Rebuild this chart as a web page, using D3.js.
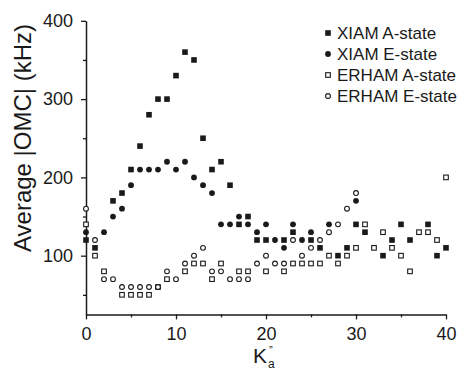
<!DOCTYPE html>
<html>
<head>
<meta charset="utf-8">
<script src="https://cdn.jsdelivr.net/npm/d3@7"></script>
<style>
  html, body { margin: 0; padding: 0; background: #fff; }
  svg { display: block; font-family: "Liberation Sans", Arial, sans-serif; }
</style>
</head>
<body>
<div id="chart"></div>
<script>
// K_a'' values (x)
const ka = [0, 1, 2, 3, 4, 5, 6, 7, 8, 9, 10, 11, 12, 13, 14, 15, 16, 17, 18, 19, 20,
            21, 22, 23, 24, 25, 26, 27, 28, 29, 30, 31, 32, 33, 34, 35, 36, 37, 38, 39, 40];

// average |OMC| in kHz, null = no point
const xiamA = [120, 110, null, 170, 180, 210, 240, 280, 300, 300, 330, 360, 350, 250, 210, 220, 190, 140, 150, 120, 120,
               null, 120, 130, null, 120, 110, null, 100, 110, 140, 130, null, 100, 120, 140, 120, null, 140, 100, 110];
const xiamE = [130, null, 130, 150, 160, 190, 210, 210, 210, 220, 210, 220, 200, 190, 180, 140, 140, 150, 140, 130, 140,
               120, 110, 140, 120, 130, null, 140, null, null, 170];
const erhamA = [140, 100, 80, null, 50, 50, 50, 50, 60, 70, null, 80, 90, 90, 70, 90, null, 80, 80, null, 80,
                null, 80, 90, 90, 90, 90, 100, 90, 100, 110, 140, 110, 130, 110, 100, 80, 130, 130, 120, 200];
const erhamE = [160, 120, 70, 70, 60, 60, 60, 60, 60, 80, 70, 90, 100, 110, 80, 80, 70, 70, 70, 90, 100,
                90, 90, 120, 100, 110, 120, 130, 140, 160, 180];

const seriesNames = ["XIAM A-state", "XIAM E-state", "ERHAM A-state", "ERHAM E-state"];
const seriesValues = [xiamA, xiamE, erhamA, erhamE];
const markerTypes = ["filledSquare", "filledCircle", "openSquare", "openCircle"];

const yMajor = [100, 200, 300, 400];
const yMinor = [50, 150, 250, 350];
const xMajor = [0, 10, 20, 30, 40];
const xMinor = [5, 15, 25, 35];

const width = 461, height = 371;
const ink = "#1a1a1a";

const svg = d3.select("#chart").append("svg")
  .attr("width", width)
  .attr("height", height);

const x = d3.scaleLinear().domain([0, 40]).range([86, 446]);
const y = d3.scaleLinear().domain([25, 400]).range([314.4, 20.8]);

// minor ticks first
svg.append("g")
  .attr("transform", `translate(0,${y(25)})`)
  .call(d3.axisBottom(x).tickValues(xMinor).tickSize(3).tickFormat("").tickSizeOuter(0))
  .call(g => g.select(".domain").remove());
svg.append("g")
  .attr("transform", `translate(${x(0)},0)`)
  .call(d3.axisLeft(y).tickValues(yMinor).tickSize(3).tickFormat("").tickSizeOuter(0))
  .call(g => g.select(".domain").remove());

const xAxis = svg.append("g")
  .attr("transform", `translate(0,${y(25)})`)
  .call(d3.axisBottom(x).tickValues(xMajor).tickSize(5).tickPadding(8).tickSizeOuter(0));
const yAxis = svg.append("g")
  .attr("transform", `translate(${x(0)},0)`)
  .call(d3.axisLeft(y).tickValues(yMajor).tickSize(5).tickPadding(8).tickSizeOuter(0));

svg.selectAll(".tick line").attr("stroke", ink).attr("stroke-width", 1.3);
svg.selectAll(".domain").attr("stroke", ink).attr("stroke-width", 1.5);
xAxis.selectAll("text").attr("font-size", 18).attr("fill", ink).attr("font-family", null);
yAxis.selectAll("text").attr("font-size", 18).attr("fill", ink).attr("font-family", null);

// axis titles
svg.append("text")
  .attr("transform", `translate(31,138) rotate(-90)`)
  .attr("text-anchor", "middle")
  .attr("font-size", 24)
  .attr("fill", ink)
  .text("Average |OMC| (kHz)");

// K_a'' : subscript a, double prime above it
const xt = svg.append("text").attr("x", 253).attr("y", 363).attr("fill", ink);
xt.append("tspan").attr("font-size", 21).text("K");
xt.append("tspan").attr("font-size", 12).attr("x", 268).attr("dy", 5).text("a");
xt.append("tspan").attr("font-size", 11).attr("x", 269).attr("dy", -14).text("”");

function drawMarker(g, type) {
  if (type === "filledSquare") {
    g.append("rect").attr("x", -2.8).attr("y", -2.8).attr("width", 5.6).attr("height", 5.6).attr("fill", ink);
  } else if (type === "filledCircle") {
    g.append("circle").attr("r", 2.9).attr("fill", ink);
  } else if (type === "openSquare") {
    g.append("rect").attr("x", -2.3).attr("y", -2.3).attr("width", 4.6).attr("height", 4.6)
      .attr("fill", "#fff").attr("stroke", ink).attr("stroke-width", 1.1);
  } else {
    g.append("circle").attr("r", 2.4).attr("fill", "#fff").attr("stroke", ink).attr("stroke-width", 1.1);
  }
}

const plot = svg.append("g");
seriesValues.forEach((vals, i) => {
  const pts = vals.map((v, j) => ({ k: ka[j], v })).filter(d => d.v != null);
  plot.append("g").selectAll("g")
    .data(pts)
    .join("g")
    .attr("transform", d => `translate(${x(d.k)},${y(d.v)})`)
    .each(function () { drawMarker(d3.select(this), markerTypes[i]); });
});

// legend
const legend = svg.append("g");
seriesNames.forEach((name, i) => {
  const row = legend.append("g").attr("transform", `translate(328,${33 + i * 21})`);
  drawMarker(row, markerTypes[i]);
  row.append("text")
    .attr("x", 9)
    .attr("dy", "0.36em")
    .attr("font-size", 17)
    .attr("fill", ink)
    .text(name);
});
</script>
</body>
</html>
